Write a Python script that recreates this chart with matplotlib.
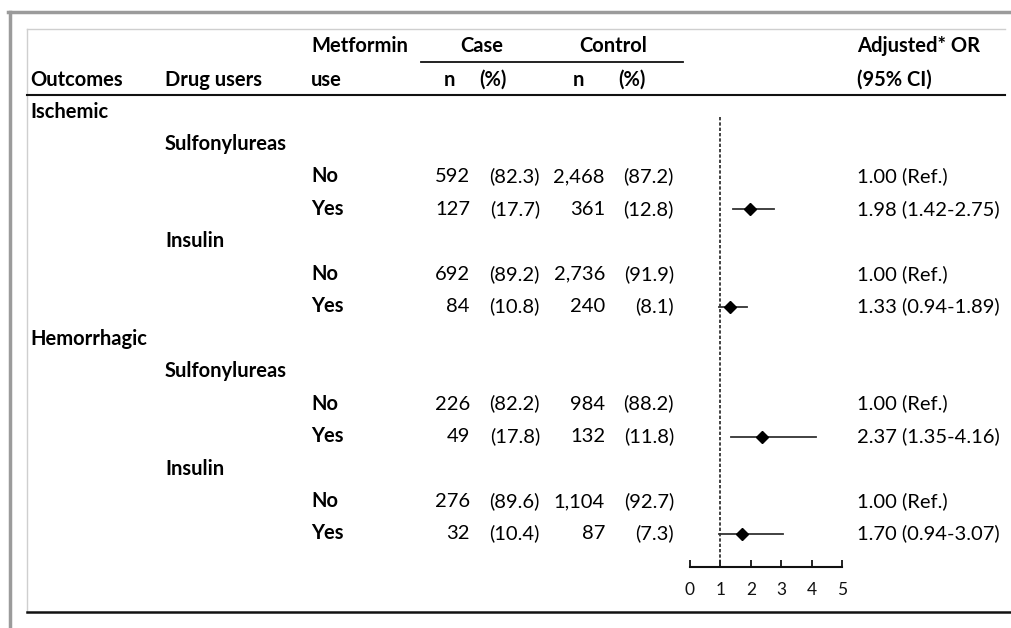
import matplotlib
matplotlib.use("Agg")
import matplotlib.pyplot as plt
from matplotlib.lines import Line2D

plt.rcParams['font.family'] = ['Lato', 'DejaVu Sans']

# ---- data ----
outcomes = ["Ischemic", "Hemorrhagic"]
drugs = ["Sulfonylureas", "Insulin"]
metformin_use = ["No", "Yes"]
case_n = [592, 127, 692, 84, 226, 49, 276, 32]
case_pct = [82.3, 17.7, 89.2, 10.8, 82.2, 17.8, 89.6, 10.4]
ctrl_n = [2468, 361, 2736, 240, 984, 132, 1104, 87]
ctrl_pct = [87.2, 12.8, 91.9, 8.1, 88.2, 11.8, 92.7, 7.3]
or_est = [1.00, 1.98, 1.00, 1.33, 1.00, 2.37, 1.00, 1.70]
or_lo = [None, 1.42, None, 0.94, None, 1.35, None, 0.94]
or_hi = [None, 2.75, None, 1.89, None, 4.16, None, 3.07]
x_ticks = [0, 1, 2, 3, 4, 5]

W, H = 1012, 628
fig = plt.figure(figsize=(W / 100, H / 100), dpi=100)
ax = fig.add_axes([0, 0, 1, 1])
ax.set_xlim(0, W)
ax.set_ylim(H, 0)
ax.axis('off')

# frame lines
ax.add_line(Line2D([8, W], [12, 12], color='#9b9b9b', lw=2.5))
ax.add_line(Line2D([10, 10], [12, H], color='#9b9b9b', lw=2.5))
ax.add_line(Line2D([27, 1005], [29, 29], color='#cfcfcf', lw=1.0))
ax.add_line(Line2D([27, 27], [29, 612], color='#cfcfcf', lw=1.0))
ax.add_line(Line2D([27, W], [612, 612], color='#111111', lw=1.8))
ax.add_line(Line2D([27, 1005], [95, 95], color='#111111', lw=1.5))
ax.add_line(Line2D([421, 683], [62, 62], color='#111111', lw=1.3))

fs = 14.5
BL = 5.5  # baseline offset below row centre
bold = dict(fontsize=fs, fontweight='bold', color='#000000', va='baseline')
reg = dict(fontsize=fs, color='#000000', va='baseline')


def put(x, y, s, ha, style):
    ax.text(x, y + BL, s, ha=ha, **style)


# headers
put(30, 80, "Outcomes", 'left', bold)
put(165, 80, "Drug users", 'left', bold)
put(311, 47, "Metformin", 'left', bold)
put(311, 80, "use", 'left', bold)
put(482, 46, "Case", 'center', bold)
put(613, 46, "Control", 'center', bold)
put(449, 80, "n", 'center', bold)
put(493, 80, "(%)", 'center', bold)
put(578, 80, "n", 'center', bold)
put(632, 80, "(%)", 'center', bold)
put(857, 47, "Adjusted* OR", 'left', bold)
put(857, 80, "(95% CI)", 'left', bold)

# rows
y0, dy = 112, 32.46
row = 0
data_rows = []
k = 0
for o in outcomes:
    put(30, y0 + row * dy, o, 'left', bold)
    row += 1
    for d in drugs:
        put(165, y0 + row * dy, d, 'left', bold)
        row += 1
        for m in metformin_use:
            y = y0 + row * dy
            put(311, y, m, 'left', bold)
            put(470, y, f"{case_n[k]:,}", 'right', reg)
            put(540, y, f"({case_pct[k]:.1f})", 'right', reg)
            put(605, y, f"{ctrl_n[k]:,}", 'right', reg)
            put(674, y, f"({ctrl_pct[k]:.1f})", 'right', reg)
            if or_lo[k] is None:
                txt = f"{or_est[k]:.2f} (Ref.)"
            else:
                txt = f"{or_est[k]:.2f} ({or_lo[k]:.2f}-{or_hi[k]:.2f})"
            put(857, y, txt, 'left', reg)
            data_rows.append((y, k))
            k += 1
            row += 1

# forest plot axes
fx0, fx1 = 690, 842
fy_top, fy_bot = 100, 567
fax = fig.add_axes([fx0 / W, (H - fy_bot) / H, (fx1 - fx0) / W, (fy_bot - fy_top) / H])
fax.set_xlim(0, 5)
fax.set_ylim(fy_bot, fy_top)
fax.patch.set_alpha(0)
for s in ['top', 'right', 'left']:
    fax.spines[s].set_visible(False)
fax.spines['bottom'].set_linewidth(1.5)
fax.spines['bottom'].set_color('#111111')
fax.set_yticks([])
fax.set_xticks(x_ticks)
fax.set_xticklabels([str(t) for t in x_ticks])
fax.tick_params(axis='x', direction='in', length=5, width=1.3, labelsize=12.5,
                pad=11, colors='#111111')
fax.plot([1, 1], [117, fy_bot], ls=(0, (2, 1.2)), color='#222222', lw=1.2, clip_on=False)

for y, i in data_rows:
    if or_lo[i] is None:
        continue
    fax.plot([or_lo[i], or_hi[i]], [y, y], color='#333333', lw=1.3)
    fax.plot(or_est[i], y, marker='D', color='#000000', ms=6.5)

fig.savefig("out.png", dpi=100)
